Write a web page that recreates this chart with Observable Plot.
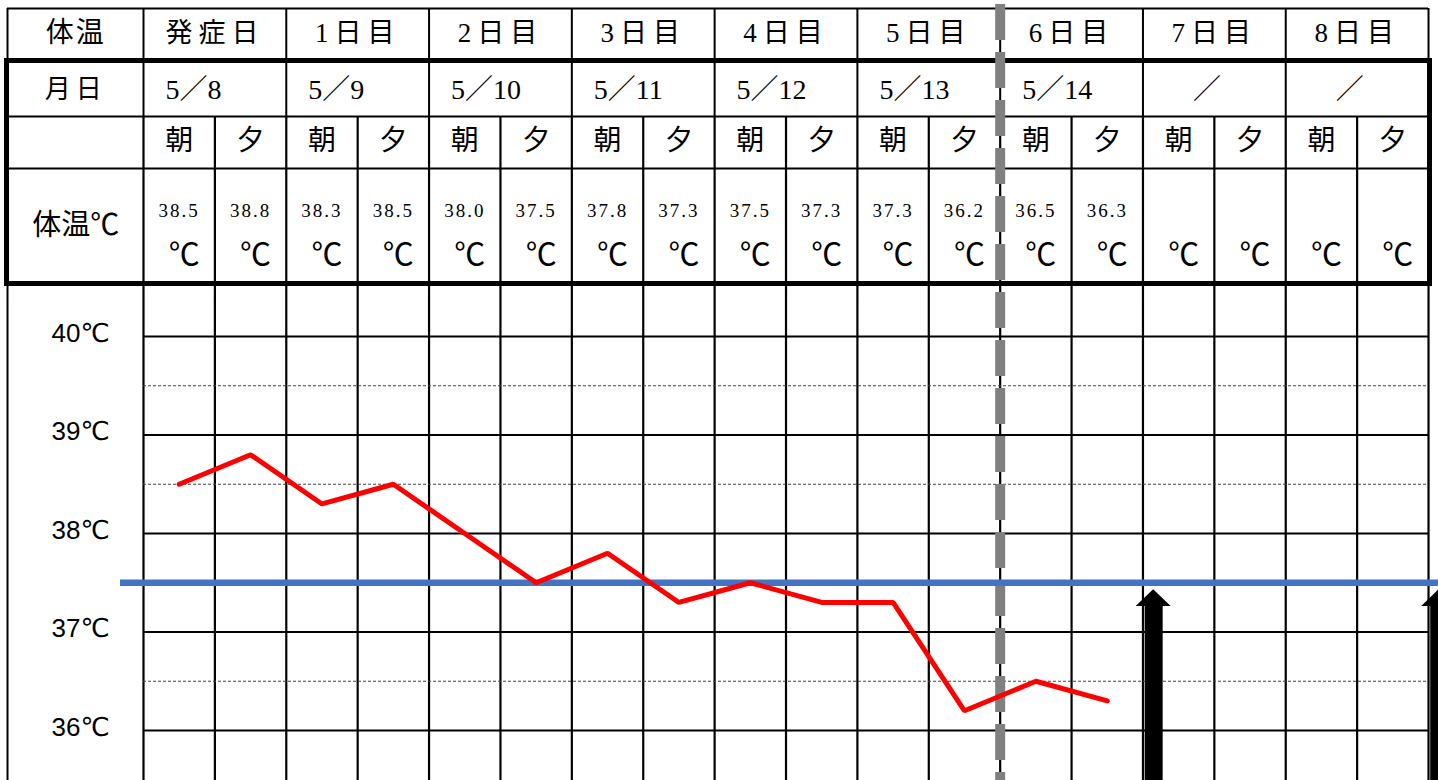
<!DOCTYPE html>
<html><head><meta charset="utf-8">
<script src="https://cdn.jsdelivr.net/npm/d3@7"></script>
<script src="https://cdn.jsdelivr.net/npm/@observablehq/plot@0.6"></script>
<style>
html,body{margin:0;padding:0;background:#fff;overflow:hidden;}
#chart svg{display:block;overflow:hidden;}
</style></head>
<body><div id="chart"></div>
<script>
// ---- data ----
const dayLabels = ["発症日","1日目","2日目","3日目","4日目","5日目","6日目","7日目","8日目"];
const dateLabels = ["5／8","5／9","5／10","5／11","5／12","5／13","5／14","　／","　／"];
const periodLabels = ["朝","夕"];
const temps = [38.5,38.8,38.3,38.5,38.0,37.5,37.8,37.3,37.5,37.3,37.3,36.2,36.5,36.3];
const yTicks = [36,37,38,39,40];
const halfTicks = [36.5,37.5,38.5,39.5];
const threshold = 37.5;
const onsetBoundary = 12;          // boundary between 5日目 and 6日目
const arrowSlots = [14.15, 18.15];
const arrowTip = 37.43, arrowBase = 37.26;

// ---- layout ----
const W = 1438;
const slotPx = 71.39, gridLeftPx = 143;
const nSlots = 18;
const xDomain = [-gridLeftPx/slotPx, (W-gridLeftPx)/slotPx];
const tableLeft = (7-gridLeftPx)/slotPx;
const boxLeft = (6.5-gridLeftPx)/slotPx, boxRight = (1429.5-gridLeftPx)/slotPx;
const labelX = -0.95;
const slotEdges = d3.range(0, nSlots+1);
const dayEdges = d3.range(0, nSlots+1, 2);
const serifCJK = "'Liberation Serif','Noto Sans CJK JP',serif";
const sansCJK = "'Noto Sans CJK JP','Liberation Serif',sans-serif";

const topPlot = Plot.plot({
  width: W, height: 300, margin: 0,
  x: {domain: xDomain, axis: null},
  y: {domain: [0, 300], range: [0, 300], axis: null},
  marks: [
    Plot.ruleY([8, 116, 168], {x1: tableLeft, x2: nSlots, stroke: "#000", strokeWidth: 2}),
    Plot.ruleX([tableLeft, ...dayEdges], {y1: 8, y2: 60, stroke: "#000", strokeWidth: 2}),
    Plot.ruleX(dayEdges, {y1: 60, y2: 116, stroke: "#000", strokeWidth: 2}),
    Plot.ruleX(slotEdges, {y1: 116, y2: 300, stroke: "#000", strokeWidth: 2.2}),
    Plot.ruleX([tableLeft], {y1: 60, y2: 300, stroke: "#000", strokeWidth: 2}),
    Plot.rect([0], {x1: boxLeft, x2: boxRight, y1: 60.5, y2: 283.5, stroke: "#000", strokeWidth: 5, fill: "none"}),
    Plot.text(["体温"], {x: labelX, y: 33, text: d => d, fontSize: 28, fontFamily: sansCJK, ariaDescription: "ls2"}),
    Plot.text(dayLabels, {x: (d, i) => 2*i + 1, y: 33, text: d => d, fontSize: 27, fontFamily: serifCJK, ariaDescription: "ls6"}),
    Plot.text(["月日"], {x: labelX, y: 89, text: d => d, fontSize: 26, fontFamily: sansCJK, ariaDescription: "ls5"}),
    Plot.text(dateLabels, {x: (d, i) => 2*i + 22/slotPx, y: 90, text: d => d, textAnchor: "start", fontSize: 28, fontFamily: serifCJK}),
    Plot.text(d3.range(nSlots), {x: i => i + 0.5, y: 141, text: i => periodLabels[i % 2], fontSize: 28, fontFamily: sansCJK}),
    Plot.text(["体温℃"], {x: labelX, y: 225, text: d => d, fontSize: 29, fontFamily: sansCJK}),
    Plot.text(temps, {x: (d, i) => i + 0.5, y: 210, text: d => d.toFixed(1), fontSize: 19, fontFamily: "'Liberation Serif',serif", ariaDescription: "ls2"}),
    Plot.text(d3.range(nSlots), {x: i => i + 0.57, y: 255, text: () => "℃", fontSize: 31, fontFamily: sansCJK}),
    Plot.ruleX([onsetBoundary], {stroke: "#808080", strokeWidth: 10, strokeDasharray: "36,12", strokeDashoffset: 44})
  ]
});

const yDomain = [35.4924, 40.3655];
const arrowHeads = arrowSlots.flatMap((s, k) => [
  {k, x: s - 0.245, y: arrowBase},
  {k, x: s, y: arrowTip},
  {k, x: s + 0.245, y: arrowBase}
]);

const chartPlot = Plot.plot({
  width: W, height: 480, margin: 0,
  x: {domain: xDomain, axis: null},
  y: {domain: yDomain, range: [480, 0], axis: null},
  marks: [
    Plot.ruleX(slotEdges, {stroke: "#000", strokeWidth: 2.2}),
    Plot.ruleX([tableLeft], {stroke: "#000", strokeWidth: 2}),
    Plot.ruleY(yTicks, {x1: 0, x2: nSlots, stroke: "#000", strokeWidth: 2.2}),
    Plot.ruleY(halfTicks, {x1: 0, x2: nSlots, stroke: "#444", strokeWidth: 1.2, strokeDasharray: "3,2"}),
    Plot.text(yTicks, {x: -0.88, y: d => d, dy: -3, text: d => `${d}℃`, fontSize: 26, fontFamily: "'Liberation Sans','DejaVu Sans',sans-serif"}),
    Plot.ruleX([onsetBoundary], {stroke: "#808080", strokeWidth: 10, strokeDasharray: "36,12", strokeDashoffset: 8}),
    Plot.ruleY([threshold], {x1: -0.322, x2: xDomain[1], stroke: "#4472C4", strokeWidth: 6.5}),
    Plot.line(temps, {x: (d, i) => i + 0.5, y: d => d, stroke: "#FF0000", strokeWidth: 5, strokeLinejoin: "miter"}),
    Plot.ruleX(arrowSlots, {y1: yDomain[0], y2: arrowBase, stroke: "#000", strokeWidth: 18}),
    Plot.areaY(arrowHeads, {x: "x", y1: arrowBase, y2: "y", z: "k", fill: "#000", curve: "linear"})
  ]
});

const root = document.getElementById("chart");
root.appendChild(topPlot);
root.appendChild(chartPlot);
d3.select(topPlot).selectAll('g[aria-description="ls2"] text').style("letter-spacing", "2px");
d3.select(topPlot).selectAll('g[aria-description="ls5"] text').style("letter-spacing", "5px");
d3.select(topPlot).selectAll('g[aria-description="ls6"] text').style("letter-spacing", "6px");
</script>
</body></html>
